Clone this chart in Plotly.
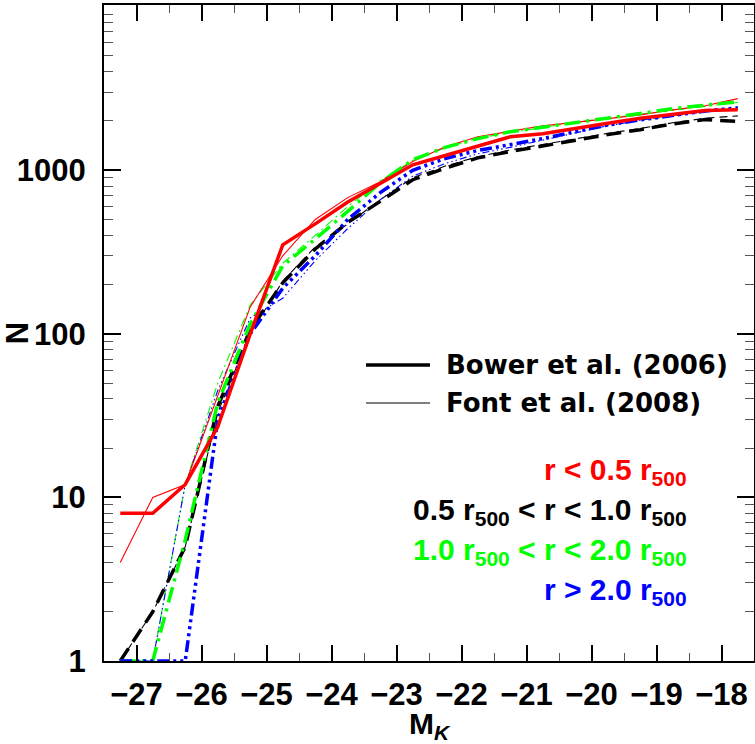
import plotly.graph_objects as go

# Absolute K-band magnitude bin centres
mag = [-27.25, -26.75, -26.25, -25.75, -25.25, -24.75, -24.25, -23.75, -23.25, -22.75,
       -22.25, -21.75, -21.25, -20.75, -20.25, -19.75, -19.25, -18.75, -18.25, -17.75]

# Bower et al. (2006) (thick lines)
bower_r05 = [8, 8, 12, 27, 100, 350, 470, 640, 830, 1080,
             1230, 1410, 1600, 1670, 1810, 1940, 2080, 2210, 2320, 2340]
bower_r05_10 = [1, 2, 5, 36, 106, 205, 330, 480, 645, 875,
                1030, 1190, 1300, 1410, 1515, 1650, 1770, 1920, 2040, 1990]
bower_r10_20 = [1, 1, 5.5, 38, 115, 260, 380, 560, 840, 1160,
                1380, 1560, 1720, 1830, 1950, 2090, 2220, 2380, 2500, 2620]
bower_r20 = [1, 1, 1, 30, 100, 190, 300, 500, 730, 1000,
             1180, 1320, 1430, 1560, 1720, 1890, 2030, 2170, 2300, 2410]

# Font et al. (2008) (thin lines)
font_r05 = [4, 10, 12, 42, 146, 300, 500, 680, 850, 1130,
            1390, 1600, 1730, 1870, 1960, 2060, 2180, 2340, 2480, 2740]
font_r05_10 = [1, 2, 5, 33, 100, 210, 340, 470, 660, 900,
               1060, 1210, 1330, 1440, 1560, 1680, 1800, 1950, 2080, 2150]
font_r10_20 = [1, 1, 12, 50, 150, 270, 400, 600, 860, 1150,
               1370, 1570, 1700, 1830, 1960, 2080, 2200, 2330, 2450, 2600]
font_r20 = [1, 1, 12, 45, 125, 165, 280, 440, 660, 920,
            1100, 1260, 1380, 1530, 1700, 1870, 2020, 2150, 2280, 2400]

x_ticks = [-27, -26, -25, -24, -23, -22, -21, -20, -19, -18]
y_ticks = [1, 10, 100, 1000]
y_ticktext = ["1", "10", "100", "1000"]

RED, BLACK, GREEN, BLUE = "#FF0000", "#000000", "#00FF00", "#0000FF"
THICK, THIN = 3.5, 1.1

fig = go.Figure()

thin_series = [
    (font_r05_10, BLACK, "8px,5px"),
    (font_r10_20, GREEN, "9px,4px,2px,4px"),
    (font_r20, BLUE, "7px,3px,1.5px,3px,1.5px,3px,1.5px,3px"),
    (font_r05, RED, "solid"),
]
thick_series = [
    (bower_r05_10, BLACK, "15px,8px"),
    (bower_r10_20, GREEN, "16px,6px,3px,6px"),
    (bower_r20, BLUE, "12px,4px,3px,4px,3px,4px,3px,4px"),
    (bower_r05, RED, "solid"),
]
for ys, col, dash in thin_series:
    fig.add_trace(go.Scatter(x=mag, y=ys, mode="lines", showlegend=False,
                             line=dict(color=col, width=THIN, dash=dash)))
for ys, col, dash in thick_series:
    fig.add_trace(go.Scatter(x=mag, y=ys, mode="lines", showlegend=False,
                             line=dict(color=col, width=THICK, dash=dash)))

tickfont = dict(family="Liberation Sans, Arial", size=31, color="black", weight="bold")

fig.update_xaxes(
    range=[-27.5, -17.5], tickvals=x_ticks, ticks="inside", ticklen=16, tickwidth=1.5,
    tickcolor="black", mirror="allticks", showline=True, linecolor="black", linewidth=2,
    showgrid=False, zeroline=False, tickfont=tickfont, ticklabelstandoff=5,
    automargin=False,
    minor=dict(dtick=0.5, tick0=-27.5, ticks="inside", ticklen=8, tickwidth=1.2,
               tickcolor="#555555", showgrid=False),
    title=dict(text="M<sub><i>K</i></sub>",
               font=dict(family="Liberation Sans, Arial", size=30, color="black", weight="bold"),
               standoff=14),
)
minor_y = [m * 10 ** d for d in range(4) for m in range(2, 10)]
fig.update_yaxes(
    type="log", range=[0, 4.01], tickvals=y_ticks, ticktext=y_ticktext, ticks="inside",
    ticklen=17, tickwidth=1.5, tickcolor="black", mirror="allticks", showline=True,
    linecolor="black", linewidth=2, showgrid=False, zeroline=False, tickfont=tickfont,
    ticklabelstandoff=10, automargin=False,
    minor=dict(tickmode="array", tickvals=minor_y, ticks="inside", ticklen=9, tickwidth=1.2,
               tickcolor="#555555", showgrid=False),
    title=dict(text="N",
               font=dict(family="Liberation Sans, Arial", size=31, color="black", weight="bold"),
               standoff=9),
)

# Legend-style key (line samples + text)
leg_font = dict(family="DejaVu Sans", size=26, color="black", weight="bold")
for yk, w, label in [(365, THICK, "Bower et al. (2006)"), (403, THIN, "Font et al. (2008)")]:
    yp = 1 - (yk - 5) / 656
    fig.add_shape(type="line", xref="paper", yref="paper",
                  x0=(366 - 104) / 650, x1=(430 - 104) / 650, y0=yp, y1=yp,
                  line=dict(color="black", width=w))
    fig.add_annotation(xref="paper", yref="paper", x=(444 - 104) / 650, y=yp,
                       xanchor="left", yanchor="middle", text=label, showarrow=False,
                       font=leg_font)

lab_font = dict(family="Liberation Sans, Arial", size=30, weight="bold")
labels = [
    (467, RED, "r < 0.5 r<sub>500</sub>"),
    (507, BLACK, "0.5 r<sub>500</sub> < r < 1.0 r<sub>500</sub>"),
    (547, GREEN, "1.0 r<sub>500</sub> < r < 2.0 r<sub>500</sub>"),
    (587, BLUE, "r > 2.0 r<sub>500</sub>"),
]
for yk, col, txt in labels:
    fig.add_annotation(xref="paper", yref="paper", x=(689 - 104) / 650,
                       y=1 - (yk + 4 - 5) / 656, xanchor="right", yanchor="middle",
                       text=txt, showarrow=False, font=dict(lab_font, color=col))

fig.update_layout(
    width=755, height=744, margin=dict(l=104, r=1, t=5, b=83),
    plot_bgcolor="white", paper_bgcolor="white", showlegend=False,
)
fig.write_html("out.html")
